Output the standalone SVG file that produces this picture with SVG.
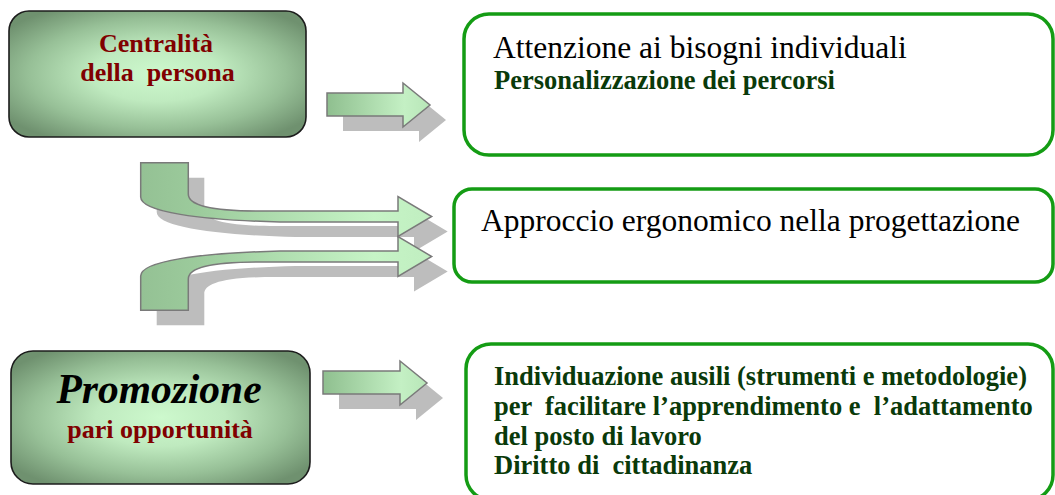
<svg xmlns="http://www.w3.org/2000/svg" width="1055" height="495" viewBox="0 0 1055 495">
  <defs>
    <radialGradient id="boxGrad" cx="0.5" cy="0.5" r="0.62">
      <stop offset="0" stop-color="#cdf9cd"/>
      <stop offset="0.35" stop-color="#bfeabf"/>
      <stop offset="0.7" stop-color="#97c097"/>
      <stop offset="1" stop-color="#6f916f"/>
    </radialGradient>
    <linearGradient id="arrGrad1" gradientUnits="userSpaceOnUse" x1="327" y1="0" x2="430" y2="0">
      <stop offset="0" stop-color="#8fbf8f"/>
      <stop offset="0.75" stop-color="#c4f0c4"/>
      <stop offset="1" stop-color="#b8e6b8"/>
    </linearGradient>
    <linearGradient id="arrGrad2" gradientUnits="userSpaceOnUse" x1="323" y1="0" x2="427" y2="0">
      <stop offset="0" stop-color="#8fbf8f"/>
      <stop offset="0.75" stop-color="#c4f0c4"/>
      <stop offset="1" stop-color="#b8e6b8"/>
    </linearGradient>
    <linearGradient id="curveGrad" gradientUnits="userSpaceOnUse" x1="140" y1="0" x2="432" y2="0">
      <stop offset="0" stop-color="#94c194"/>
      <stop offset="0.2" stop-color="#9ccb9c"/>
      <stop offset="0.8" stop-color="#c6f4c6"/>
      <stop offset="1" stop-color="#c0eec0"/>
    </linearGradient>
    <path id="curveArrow" d="M140.7,162.7 L188.3,162.7 L188.3,194 C188.3,204 205,211 260,211 L398,211 L398,196.5 L431.7,216.5 L398,236.5 L398,222 L280,222 C200,220 140.7,212 140.7,197 Z"/>
    <path id="straight1" d="M327,93 L403,93 L403,83 L430,105 L403,127 L403,116 L327,116 Z"/>
    <path id="straight2" d="M323,371 L400,371 L400,361 L427,383 L400,405 L400,394 L323,394 Z"/>
  </defs>
  <style>
    .leftBox { fill: url(#boxGrad); stroke: #1c1c1c; stroke-width: 1.6; }
    .rightBox { fill: #ffffff; stroke: #149c14; stroke-width: 3.5; }
    text { font-family: "Liberation Serif", "Times New Roman", "DejaVu Serif", serif; white-space: pre; }
    .red { fill: #800000; font-weight: bold; font-size: 26px; }
    .dkgreen { fill: #0a3a0a; font-weight: bold; font-size: 26.5px; }
    .plain { fill: #000000; font-size: 31.5px; }
    .shadow { fill: #bdbdbd; stroke: none; }
    .arrow { stroke: #7a7a7a; stroke-width: 1.5; stroke-linejoin: miter; }
  </style>

  <g id="connectors">
    <use href="#straight1" class="shadow" transform="translate(16,15)"/>
    <use href="#straight2" class="shadow" transform="translate(16,15)"/>
    <use href="#curveArrow" class="shadow" transform="translate(16,15)"/>
    <use href="#curveArrow" class="shadow" transform="translate(16,15) matrix(1,0,0,-1,0,473)"/>
    <use href="#straight1" class="arrow" fill="url(#arrGrad1)"/>
    <use href="#straight2" class="arrow" fill="url(#arrGrad2)"/>
    <use href="#curveArrow" class="arrow" fill="url(#curveGrad)"/>
    <use href="#curveArrow" class="arrow" fill="url(#curveGrad)" transform="matrix(1,0,0,-1,0,473)"/>
  </g>

  <g id="node-centralita">
    <rect class="leftBox" x="9" y="11" width="297" height="126" rx="20" ry="20"/>
    <text class="red" font-family="Liberation Serif, serif" x="156" y="52" text-anchor="middle">Centralità</text>
    <text class="red" font-family="Liberation Serif, serif" x="157.5" y="81" text-anchor="middle">della  persona</text>
  </g>

  <g id="node-promozione">
    <rect class="leftBox" x="11" y="351" width="299" height="133" rx="22" ry="22"/>
    <text font-family="Liberation Serif, serif" x="159" y="403" text-anchor="middle" font-size="41.5" font-style="italic" font-weight="bold" fill="#000">Promozione</text>
    <text class="red" font-family="Liberation Serif, serif" x="160" y="438" text-anchor="middle">pari opportunità</text>
  </g>

  <g id="node-attenzione">
    <rect class="rightBox" x="464" y="14" width="589" height="141" rx="25" ry="25"/>
    <text class="plain" font-family="Liberation Serif, serif" x="493" y="58">Attenzione ai bisogni individuali</text>
    <text class="dkgreen" font-family="Liberation Serif, serif" x="494" y="89">Personalizzazione dei percorsi</text>
  </g>

  <g id="node-approccio">
    <rect class="rightBox" x="454" y="189" width="599" height="93" rx="18" ry="18"/>
    <text class="plain" font-family="Liberation Serif, serif" x="481" y="231">Approccio ergonomico nella progettazione</text>
  </g>

  <g id="node-individuazione">
    <rect class="rightBox" x="466" y="344" width="587" height="156" rx="25" ry="25"/>
    <text class="dkgreen" font-family="Liberation Serif, serif" x="494" y="385">Individuazione ausili (strumenti e metodologie)</text>
    <text class="dkgreen" font-family="Liberation Serif, serif" x="494" y="415">per  facilitare l’apprendimento e  l’adattamento</text>
    <text class="dkgreen" font-family="Liberation Serif, serif" x="494" y="445">del posto di lavoro</text>
    <text class="dkgreen" font-family="Liberation Serif, serif" x="494" y="474">Diritto di  cittadinanza</text>
  </g>
</svg>
